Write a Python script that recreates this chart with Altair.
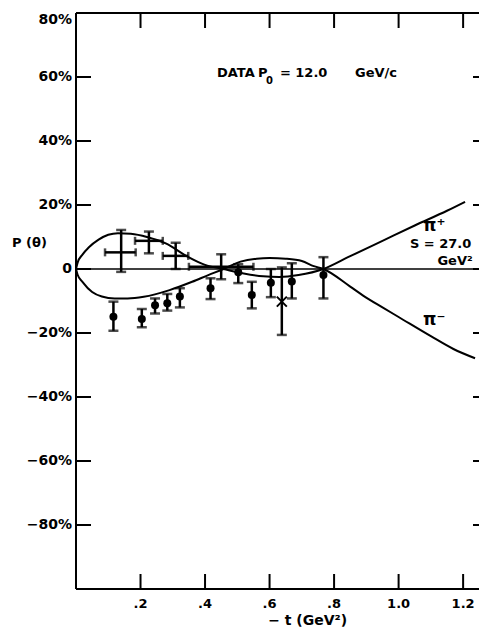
import altair as alt
import pandas as pd

# ---------------- data ----------------
# theory curves
plus_t = [0.0, 0.005, 0.02, 0.04, 0.07, 0.10, 0.13, 0.17, 0.22, 0.28, 0.34, 0.40, 0.457,
          0.52, 0.58, 0.63, 0.69, 0.767, 0.85, 0.95, 1.05, 1.15, 1.206]
plus_p = [0.0, 2.0, 4.5, 6.8, 9.2, 10.7, 11.2, 11.0, 10.0, 7.9, 4.2, 1.3, 0.0,
          -1.4, -2.3, -2.5, -1.9, 0.0, 4.0, 8.8, 13.6, 18.2, 21.0]
minus_t = [0.0, 0.005, 0.02, 0.05, 0.08, 0.12, 0.16, 0.21, 0.29, 0.36, 0.41, 0.457,
           0.51, 0.56, 0.60, 0.65, 0.70, 0.737, 0.767, 0.85, 0.89, 0.95, 1.0, 1.1, 1.17, 1.237]
minus_p = [0.0, -1.8, -4.0, -7.2, -8.6, -9.2, -9.2, -8.7, -6.6, -4.0, -1.9, 0.0,
           2.3, 3.2, 3.4, 3.2, 2.5, 0.9, 0.0, -5.5, -8.3, -12.0, -15.0, -21.0, -25.0, -27.9]

# pi+ data (crosses)
cross_t = [0.14, 0.226, 0.309, 0.45]
cross_t_lo = [0.09, 0.183, 0.269, 0.35]
cross_t_hi = [0.185, 0.269, 0.348, 0.55]
cross_p = [5.2, 8.8, 4.1, 0.7]
cross_p_lo = [-0.9, 4.9, 0.0, -3.2]
cross_p_hi = [12.2, 11.7, 8.2, 4.6]

# pi- data (filled circles)
dot_t = [0.116, 0.204, 0.245, 0.283, 0.322, 0.417, 0.503, 0.545, 0.604, 0.669, 0.767]
dot_p = [-14.9, -15.6, -11.3, -10.7, -8.6, -6.0, -1.0, -8.1, -4.3, -3.9, -1.9]
dot_lo = [-19.3, -18.2, -13.9, -13.0, -12.0, -9.4, -4.4, -12.3, -8.8, -9.2, -9.2]
dot_hi = [-10.2, -12.5, -9.2, -7.8, -6.0, -2.9, 1.5, -4.0, 0.0, 1.8, 3.7]

# single "x" point
xpt_t = [0.638]
xpt_p = [-10.2]
xpt_lo = [-20.6]
xpt_hi = [0.5]

# axes
x_ticks = [0.2, 0.4, 0.6, 0.8, 1.0, 1.2]
x_tick_labels = [".2", ".4", ".6", ".8", "1.0", "1.2"]
y_ticks = [-80, -60, -40, -20, 0, 20, 40, 60, 80]
y_tick_labels = ["−80%", "−60%", "−40%", "−20%", "0", "20%", "40%", "60%", "80%"]

# annotations
ann_text = ["DATA", "P", "= 12.0", "GeV/c", "S = 27.0"]
ann_t = [0.437, 0.564, 0.632, 0.865, 1.035]
ann_p = [61.4, 61.4, 61.4, 61.4, 7.7]
pi_text = ["π⁺", "π⁻"]
pi_t = [1.076, 1.076]
pi_p = [13.5, -16.0]
sub_text = ["0"]
sub_t = [0.589]
sub_p = [58.6]
gev_text = ["GeV²"]
gev_t = [1.175]
gev_p = [2.5]
xtitle_text = ["− t (GeV²)"]
xtitle_t = [0.718]
ytitle_text = ["P (θ)"]
ytitle_p = [8.1]

# ---------------- layout ----------------
W, H = 403, 576
XMAX = W / 322.6
YMIN, YMAX = -100, 80
FONT = "DejaVu Sans"
FW = "bold"

xs = alt.Scale(domain=[0, XMAX], nice=False, zero=False)
ys = alt.Scale(domain=[YMIN, YMAX], nice=False, zero=False)


def X(f):
    return alt.X(f, type="quantitative", scale=xs, axis=None)


def Y(f):
    return alt.Y(f, type="quantitative", scale=ys, axis=None)


curves = pd.concat([
    pd.DataFrame({"t": plus_t, "p": plus_p, "s": "plus"}),
    pd.DataFrame({"t": minus_t, "p": minus_p, "s": "minus"}),
])
crosses = pd.DataFrame({"t": cross_t, "tlo": cross_t_lo, "thi": cross_t_hi,
                        "p": cross_p, "lo": cross_p_lo, "hi": cross_p_hi})
dots = pd.DataFrame({"t": dot_t, "p": dot_p, "lo": dot_lo, "hi": dot_hi})
xpt = pd.DataFrame({"t": xpt_t, "p": xpt_p, "lo": xpt_lo, "hi": xpt_hi})
xt = pd.DataFrame({"t": x_ticks, "lab": x_tick_labels})
yt = pd.DataFrame({"p": y_ticks, "lab": y_tick_labels})
yt_mid = yt[yt["p"] < YMAX]
yt_top = yt[yt["p"] >= YMAX]
ann = pd.DataFrame({"t": ann_t, "p": ann_p, "txt": ann_text})
pis = pd.DataFrame({"t": pi_t, "p": pi_p, "txt": pi_text})
sub = pd.DataFrame({"t": sub_t, "p": sub_p, "txt": sub_text})
gev = pd.DataFrame({"t": gev_t, "p": gev_p, "txt": gev_text})
xtitle = pd.DataFrame({"t": xtitle_t, "txt": xtitle_text})
ytitle = pd.DataFrame({"p": ytitle_p, "txt": ytitle_text})
vspan = pd.DataFrame({"lo": [YMIN], "hi": [YMAX]})
hspan = pd.DataFrame({"a": [0.0], "b": [XMAX], "p": [0.0]})

BLK = "black"
layers = []

# frame
layers.append(alt.Chart(vspan).mark_rule(color=BLK, strokeWidth=2).encode(
    x=alt.value(0), y=Y("lo"), y2="hi"))
layers.append(alt.Chart(hspan).mark_rule(color=BLK, strokeWidth=2).encode(
    x=X("a"), x2="b", y=alt.value(H)))
layers.append(alt.Chart(hspan).mark_rule(color=BLK, strokeWidth=2).encode(
    x=X("a"), x2="b", y=alt.value(0)))
# zero line
layers.append(alt.Chart(hspan).mark_rule(color=BLK, strokeWidth=1.3).encode(
    x=X("a"), x2="b", y=Y("p")))

# inward ticks
layers.append(alt.Chart(xt).mark_rule(color=BLK, strokeWidth=2).encode(
    x=X("t"), y=alt.value(H), y2=alt.value(H - 15)))
layers.append(alt.Chart(xt).mark_rule(color=BLK, strokeWidth=2).encode(
    x=X("t"), y=alt.value(0), y2=alt.value(15)))
layers.append(alt.Chart(yt).mark_rule(color=BLK, strokeWidth=2).encode(
    y=Y("p"), x=alt.value(0), x2=alt.value(15)))
layers.append(alt.Chart(yt).mark_rule(color=BLK, strokeWidth=2).encode(
    y=Y("p"), x=alt.value(W - 6), x2=alt.value(W)))

# tick labels
layers.append(alt.Chart(xt).mark_text(font=FONT, fontSize=13, fontWeight=FW,
                                      align="center", baseline="top", color=BLK).encode(
    x=X("t"), y=alt.value(H + 9), text="lab:N"))
layers.append(alt.Chart(yt_mid).mark_text(font=FONT, fontSize=14, fontWeight=FW,
                                          align="right", baseline="middle", color=BLK).encode(
    y=Y("p"), x=alt.value(-4), text="lab:N"))
layers.append(alt.Chart(yt_top).mark_text(font=FONT, fontSize=14, fontWeight=FW,
                                          align="right", baseline="top", color=BLK).encode(
    y=Y("p"), x=alt.value(-4), text="lab:N"))

# axis titles
layers.append(alt.Chart(xtitle).mark_text(font=FONT, fontSize=14, fontWeight=FW,
                                          align="center", baseline="alphabetic",
                                          color=BLK).encode(
    x=X("t"), y=alt.value(H + 36), text="txt:N"))
layers.append(alt.Chart(ytitle).mark_text(font=FONT, fontSize=13, fontWeight=FW,
                                          align="left", baseline="middle", color=BLK).encode(
    x=alt.value(-64), y=Y("p"), text="txt:N"))

# theory curves
layers.append(alt.Chart(curves).mark_line(color=BLK, strokeWidth=2,
                                          interpolate="monotone").encode(
    x=X("t"), y=Y("p"), detail="s:N", order="t:Q"))

# pi+ crosses
layers.append(alt.Chart(crosses).mark_rule(color=BLK, strokeWidth=2.5).encode(
    x=X("t"), y=Y("lo"), y2="hi"))
layers.append(alt.Chart(crosses).mark_rule(color=BLK, strokeWidth=2.5).encode(
    x=X("tlo"), x2="thi", y=Y("p")))
for f in ["lo", "hi"]:
    layers.append(alt.Chart(crosses).mark_tick(color=BLK, orient="horizontal",
                                               size=10, thickness=2.5).encode(
        x=X("t"), y=Y(f)))
for f in ["tlo", "thi"]:
    layers.append(alt.Chart(crosses).mark_tick(color=BLK, orient="vertical",
                                               size=8, thickness=2.5).encode(
        x=X(f), y=Y("p")))

# pi- dots and the x point
for d in [dots, xpt]:
    layers.append(alt.Chart(d).mark_rule(color=BLK, strokeWidth=2.5).encode(
        x=X("t"), y=Y("lo"), y2="hi"))
    for f in ["lo", "hi"]:
        layers.append(alt.Chart(d).mark_tick(color=BLK, orient="horizontal",
                                             size=10, thickness=2.5).encode(
            x=X("t"), y=Y(f)))
layers.append(alt.Chart(dots).mark_circle(color=BLK, size=64, opacity=1).encode(
    x=X("t"), y=Y("p")))
layers.append(alt.Chart(xpt).mark_point(color=BLK, shape="M-1,-1L1,1M-1,1L1,-1",
                                        size=100, strokeWidth=2, opacity=1).encode(
    x=X("t"), y=Y("p")))

# annotations
layers.append(alt.Chart(ann).mark_text(font=FONT, fontSize=13, fontWeight=FW,
                                       align="left", baseline="middle", color=BLK).encode(
    x=X("t"), y=Y("p"), text="txt:N"))
layers.append(alt.Chart(pis).mark_text(font=FONT, fontSize=17, fontWeight=FW,
                                       align="left", baseline="middle", color=BLK).encode(
    x=X("t"), y=Y("p"), text="txt:N"))
layers.append(alt.Chart(sub).mark_text(font=FONT, fontSize=10, fontWeight=FW,
                                       align="left", baseline="middle", color=BLK).encode(
    x=X("t"), y=Y("p"), text="txt:N"))
layers.append(alt.Chart(gev).mark_text(font=FONT, fontSize=13, fontWeight=FW,
                                       align="center", baseline="middle", color=BLK).encode(
    x=X("t"), y=Y("p"), text="txt:N"))

chart = alt.layer(*layers).properties(
    width=W, height=H,
    autosize=alt.AutoSizeParams(type="none"),
    padding={"left": 68, "top": 5, "right": 0, "bottom": 40},
    background="white",
).configure_view(stroke=None)

chart.save("out.html", embed_options={"renderer": "svg", "actions": False})
